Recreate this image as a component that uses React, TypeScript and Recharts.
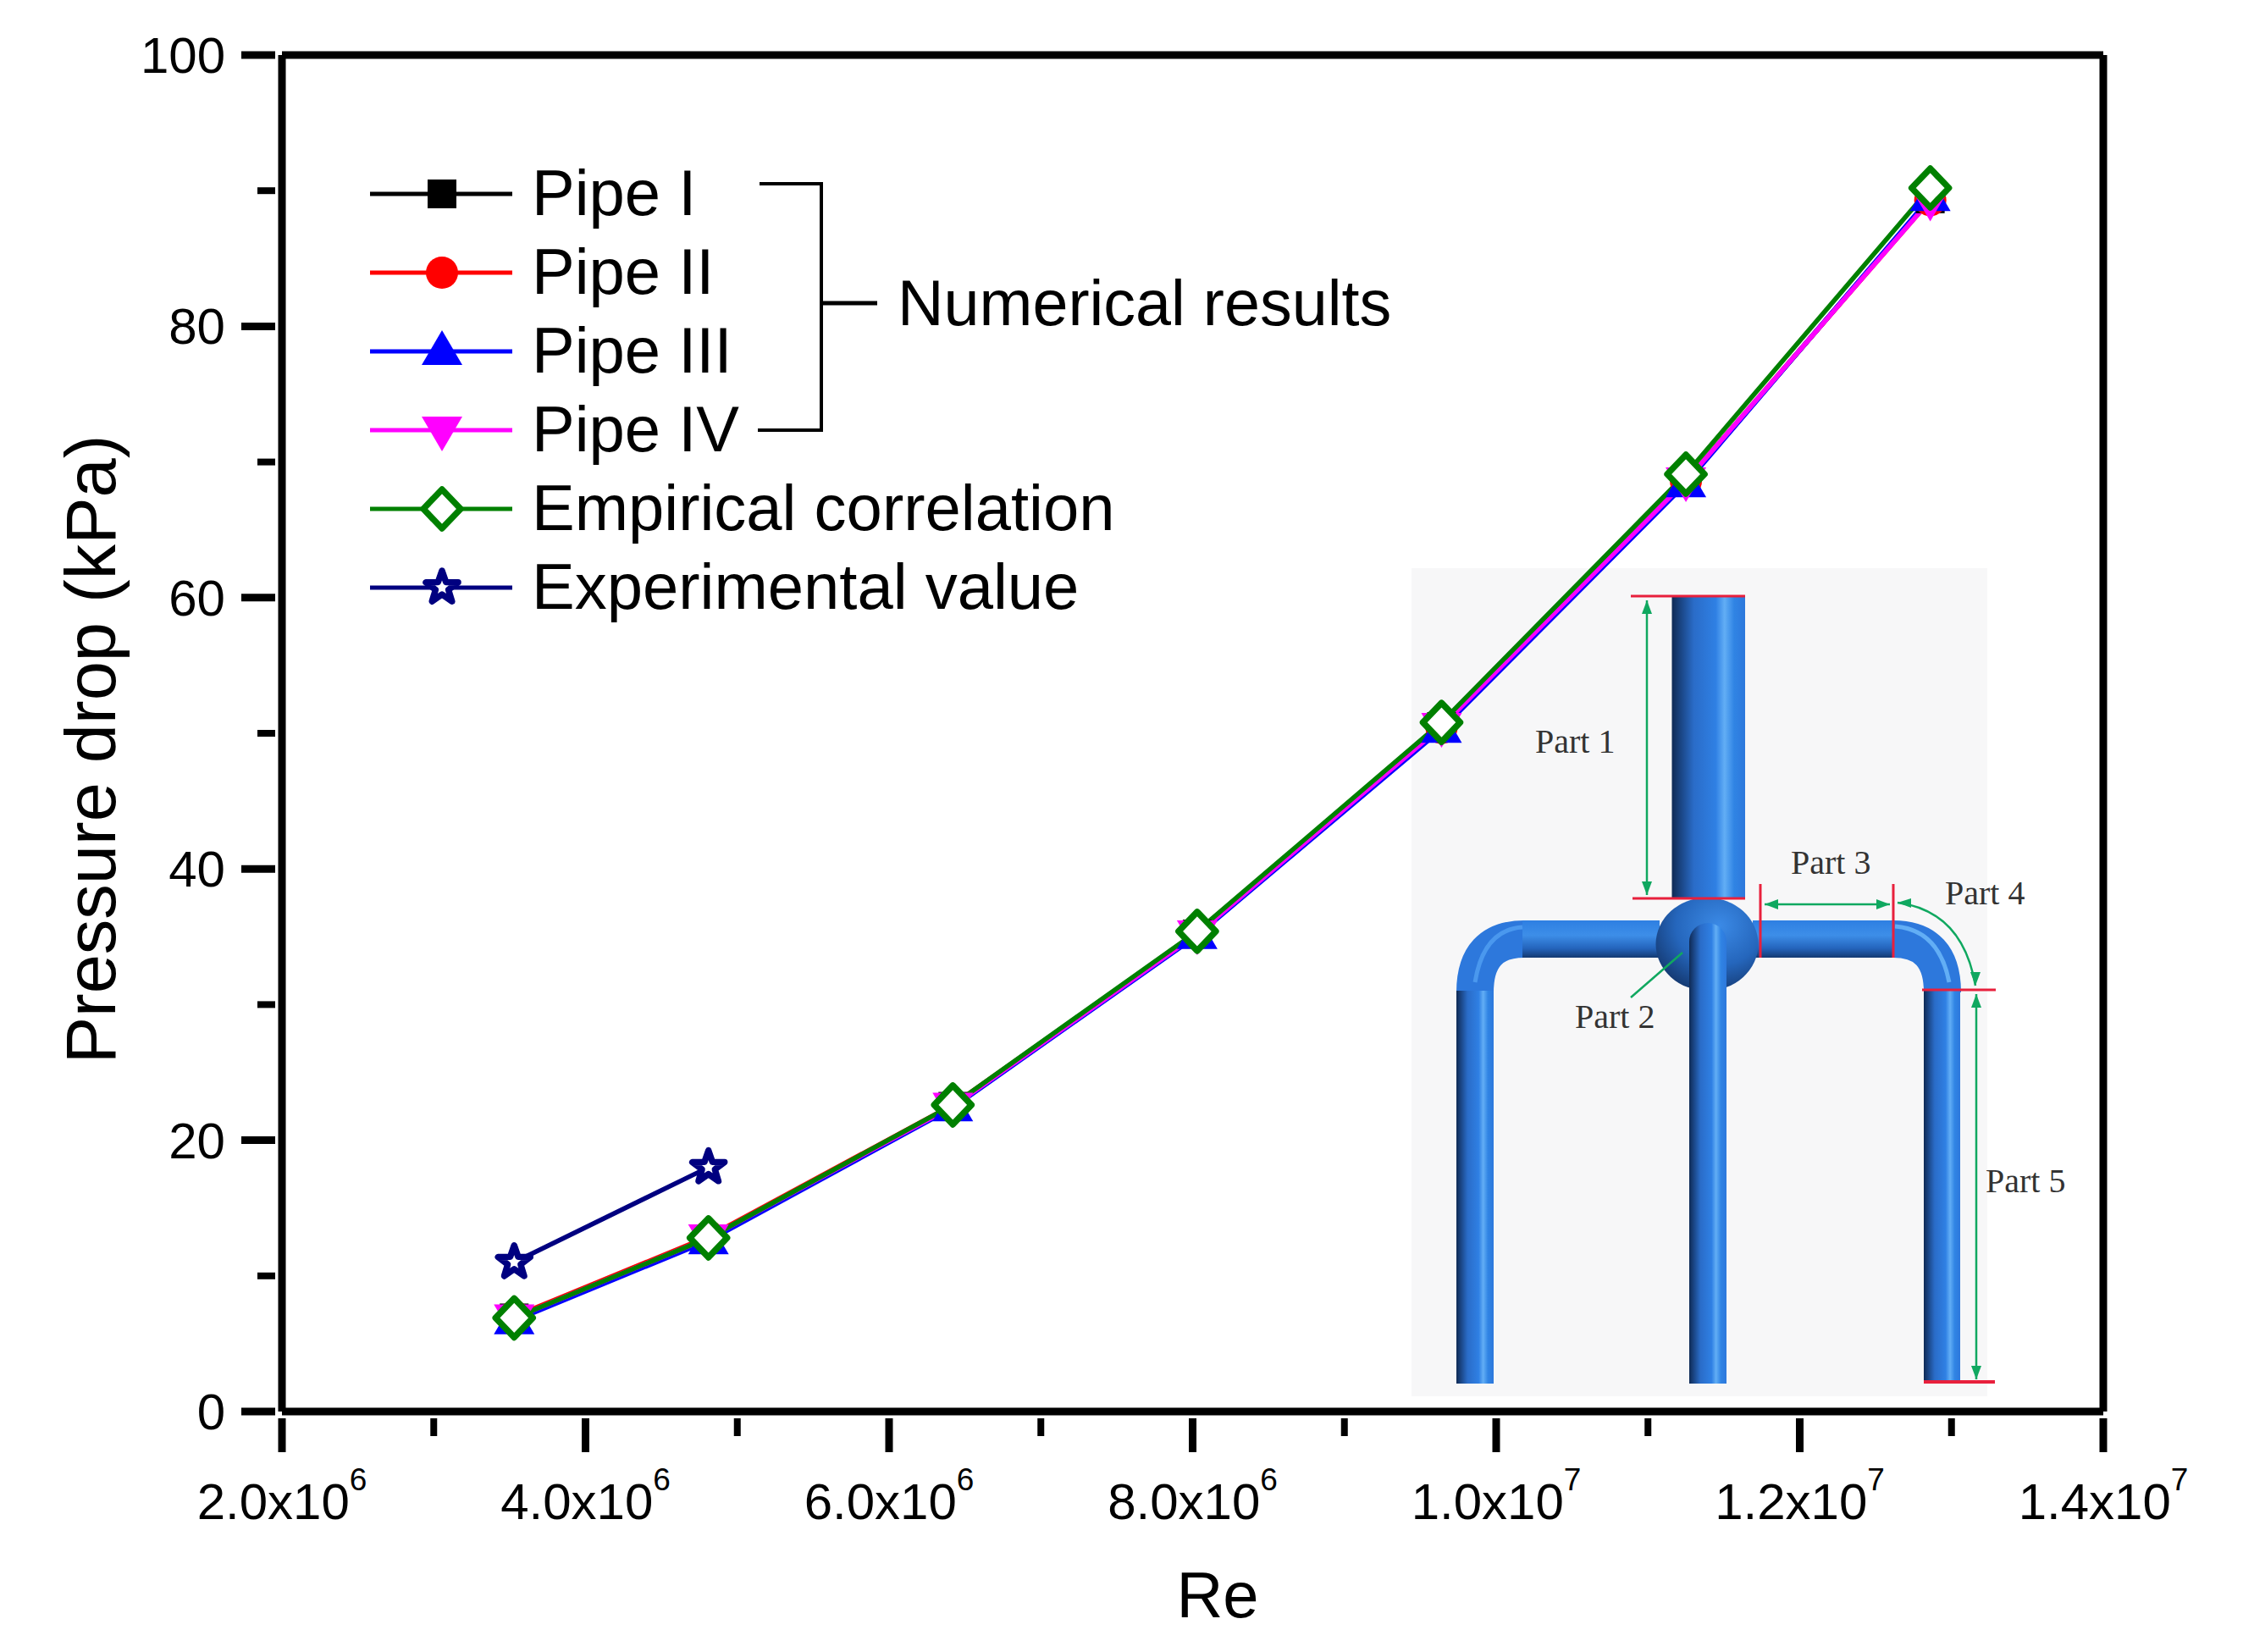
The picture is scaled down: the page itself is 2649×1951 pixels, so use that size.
import React from 'react';
import { LineChart, Line, XAxis, YAxis, Legend, ReferenceLine } from 'recharts';

const reynolds = [3.53e6, 4.81e6, 6.42e6, 8.03e6, 9.64e6, 11.25e6, 12.86e6];
const pipeI = [6.9, 12.7, 22.5, 35.2, 50.5, 68.5, 89.4];
const pipeII = [7.0, 12.9, 22.6, 35.3, 50.4, 68.6, 89.3];
const pipeIII = [6.7, 12.6, 22.4, 35.1, 50.3, 68.4, 89.5];
const pipeIV = [6.9, 12.8, 22.5, 35.2, 50.5, 68.6, 89.3];
const empirical = [6.9, 12.8, 22.6, 35.4, 50.8, 69.1, 90.2];
const experimental = [11.0, 18.0, null, null, null, null, null];
const xTicks = [2e6, 3e6, 4e6, 5e6, 6e6, 7e6, 8e6, 9e6, 10e6, 11e6, 12e6, 13e6, 14e6];
const xMajor: Record<number, [string, string]> = {
  2000000: ['2.0x10', '6'], 4000000: ['4.0x10', '6'], 6000000: ['6.0x10', '6'],
  8000000: ['8.0x10', '6'], 10000000: ['1.0x10', '7'], 12000000: ['1.2x10', '7'], 14000000: ['1.4x10', '7'],
};
const yTicks = [0, 10, 20, 30, 40, 50, 60, 70, 80, 90, 100];

const FONT = '"Liberation Sans", Arial, sans-serif';
const SERIF = '"Liberation Serif", "Times New Roman", serif';
const data = reynolds.map((re, i) => ({
  re, pipeI: pipeI[i], pipeII: pipeII[i], pipeIII: pipeIII[i], pipeIV: pipeIV[i],
  empirical: empirical[i], experimental: experimental[i],
}));

type Kind = 'square' | 'circle' | 'up' | 'down' | 'diamond' | 'star';
const series: { key: string; name: string; color: string; kind: Kind }[] = [
  { key: 'pipeI', name: 'Pipe I', color: '#000000', kind: 'square' },
  { key: 'pipeII', name: 'Pipe II', color: '#ff0000', kind: 'circle' },
  { key: 'pipeIII', name: 'Pipe III', color: '#0000ff', kind: 'up' },
  { key: 'pipeIV', name: 'Pipe IV', color: '#ff00ff', kind: 'down' },
  { key: 'empirical', name: 'Empirical correlation', color: '#008000', kind: 'diamond' },
  { key: 'experimental', name: 'Experimental value', color: '#000080', kind: 'star' },
];

function starPoints(cx: number, cy: number, R: number, r: number) {
  const p: string[] = [];
  for (let i = 0; i < 10; i++) {
    const rad = i % 2 ? r : R;
    const a = -Math.PI / 2 + (i * Math.PI) / 5;
    p.push(`${cx + rad * Math.cos(a)},${cy + rad * Math.sin(a)}`);
  }
  return p.join(' ');
}

function Marker({ cx, cy, kind, color }: { cx: number; cy: number; kind: Kind; color: string }) {
  switch (kind) {
    case 'square':
      return <rect x={cx - 17} y={cy - 17} width={34} height={34} fill={color} />;
    case 'circle':
      return <circle cx={cx} cy={cy} r={19} fill={color} />;
    case 'up':
      return <polygon points={`${cx},${cy - 25} ${cx + 24},${cy + 16} ${cx - 24},${cy + 16}`} fill={color} />;
    case 'down':
      return <polygon points={`${cx},${cy + 25} ${cx + 24},${cy - 16} ${cx - 24},${cy - 16}`} fill={color} />;
    case 'diamond':
      return (
        <polygon
          points={`${cx},${cy - 23} ${cx + 22},${cy} ${cx},${cy + 23} ${cx - 22},${cy}`}
          fill="#ffffff" stroke={color} strokeWidth={7.5} strokeLinejoin="round"
        />
      );
    default:
      return (
        <polygon
          points={starPoints(cx, cy, 20, 8)}
          fill="#ffffff" stroke={color} strokeWidth={7.5} strokeLinejoin="round"
        />
      );
  }
}

function makeDot(kind: Kind, color: string) {
  return (props: any) => {
    if (props.value == null || props.cy == null) return <g key={props.index} />;
    return <Marker key={props.index} cx={props.cx} cy={props.cy} kind={kind} color={color} />;
  };
}

function XTick({ x, y, payload }: any) {
  const major = xMajor[payload.value];
  return (
    <g>
      <line x1={x} x2={x} y1={y} y2={y + (major ? 40 : 21)} stroke="#000" strokeWidth={major ? 9 : 8} />
      {major && (
        <text x={x} y={1794} textAnchor="middle" fontFamily={FONT} fontSize={60} fill="#000">
          {major[0]}
          <tspan dy={-34} fontSize={37}>{major[1]}</tspan>
        </text>
      )}
    </g>
  );
}

function YTick({ x, y, payload }: any) {
  const major = payload.value % 20 === 0;
  return (
    <g>
      <line x1={x} x2={x - (major ? 40 : 21)} y1={y} y2={y} stroke="#000" strokeWidth={major ? 9 : 8} />
      {major && (
        <text x={266} y={y + 21} textAnchor="end" fontFamily={FONT} fontSize={60} fill="#000">
          {payload.value}
        </text>
      )}
    </g>
  );
}

function LegendBlock() {
  const rows = [229, 322, 415, 508, 601, 694];
  return (
    <svg width={1300} height={600} style={{ position: 'absolute', left: 0, top: 0, overflow: 'visible' }}>
      <g transform="translate(-420,-170)">
        {series.map((s, i) => (
          <g key={s.key}>
            <line x1={437} x2={605} y1={rows[i]} y2={rows[i]} stroke={s.color} strokeWidth={5} />
            <Marker cx={522} cy={rows[i]} kind={s.kind} color={s.color} />
            <text x={628} y={rows[i] + 25} fontFamily={FONT} fontSize={76} fill="#000">{s.name}</text>
          </g>
        ))}
        <path d="M897,217 H970 V508 H895" fill="none" stroke="#000" strokeWidth={4} />
        <line x1={970} x2={1036} y1={358} y2={358} stroke="#000" strokeWidth={5} />
        <text x={1060} y={384} fontFamily={FONT} fontSize={75.5} fill="#000">Numerical results</text>
      </g>
    </svg>
  );
}

function PipeInset() {
  const partStyle = { fontFamily: SERIF, fontSize: 40, fill: '#333333' };
  const green = '#10a860';
  const red = '#e8203c';
  return (
    <svg width={2649} height={1951} style={{ position: 'absolute', left: 0, top: 0, pointerEvents: 'none', zIndex: 0 }}>
      <defs>
        <linearGradient id="pipeV" x1="0" x2="1" y1="0" y2="0">
          <stop offset="0" stopColor="#0f2a55" />
          <stop offset="0.3" stopColor="#2a6cc8" />
          <stop offset="0.6" stopColor="#2f80e4" />
          <stop offset="0.72" stopColor="#62aef5" />
          <stop offset="0.85" stopColor="#3084e4" />
          <stop offset="1" stopColor="#2d78dc" />
        </linearGradient>
        <linearGradient id="pipeH" x1="0" x2="0" y1="0" y2="1">
          <stop offset="0" stopColor="#2e7fe2" />
          <stop offset="0.4" stopColor="#3d8ee8" />
          <stop offset="0.75" stopColor="#2464bc" />
          <stop offset="1" stopColor="#143a72" />
        </linearGradient>
        <radialGradient id="ball" cx="0.62" cy="0.3" r="0.85">
          <stop offset="0" stopColor="#3b8ae6" />
          <stop offset="0.5" stopColor="#2566bc" />
          <stop offset="1" stopColor="#0f2a58" />
        </radialGradient>
      </defs>
      <rect x={1667} y={671} width={680} height={978} fill="#f7f7f8" />
      <path d="M1800,1109 Q1742,1109 1742,1172" fill="none" stroke="#2d78dc" strokeWidth={44} />
      <path d="M2236,1109 Q2294,1109 2294,1172" fill="none" stroke="#2d78dc" strokeWidth={44} />
      <path d="M2238,1094 Q2290,1098 2302,1160" fill="none" stroke="#62aef5" strokeWidth={5} />
      <path d="M1798,1095 Q1752,1098 1742,1160" fill="none" stroke="#4a98ee" strokeWidth={5} />
      <rect x={1798} y={1087} width={162} height={44} fill="url(#pipeH)" />
      <rect x={2070} y={1087} width={166} height={44} fill="url(#pipeH)" />
      <rect x={1720} y={1170} width={44} height={464} fill="url(#pipeV)" />
      <rect x={2272} y={1170} width={43} height={462} fill="url(#pipeV)" />
      <rect x={1974.5} y={705} width={86.5} height={356} fill="url(#pipeV)" />
      <ellipse cx={2016} cy={1115} rx={60.5} ry={55} fill="url(#ball)" />
      <path d="M1995,1634 V1112 A22,22 0 0 1 2039,1112 V1634 Z" fill="url(#pipeV)" />
      <line x1={1926} x2={2061} y1={704} y2={704} stroke={red} strokeWidth={3} />
      <line x1={1928} x2={2061} y1={1061} y2={1061} stroke={red} strokeWidth={3} />
      <line x1={2079} x2={2079} y1={1044} y2={1131} stroke={red} strokeWidth={3} />
      <line x1={2236} x2={2236} y1={1044} y2={1131} stroke={red} strokeWidth={3} />
      <line x1={2270} x2={2357} y1={1169} y2={1169} stroke={red} strokeWidth={3} />
      <line x1={2272} x2={2356} y1={1632} y2={1632} stroke={red} strokeWidth={4} />
      <g stroke={green} strokeWidth={2.5} fill="none">
        <line x1={1945} x2={1945} y1={709} y2={1057} />
        <line x1={2084} x2={2232} y1={1068} y2={1068} />
        <path d="M2241,1066 Q2318,1076 2333,1164" />
        <line x1={2334} x2={2334} y1={1174} y2={1629} />
        <line x1={1926} y1={1178} x2={1987} y2={1125} />
      </g>
      <g fill={green}>
        <polygon points="1945,709 1939,725 1951,725" />
        <polygon points="1945,1057 1939,1041 1951,1041" />
        <polygon points="2084,1068 2100,1062 2100,1074" />
        <polygon points="2232,1068 2216,1062 2216,1074" />
        <polygon points="2241,1066 2257,1061 2257,1072" />
        <polygon points="2333,1164 2327,1148 2339,1148" />
        <polygon points="2334,1174 2328,1190 2340,1190" />
        <polygon points="2334,1629 2328,1613 2340,1613" />
      </g>
      <text x={1813} y={889} {...partStyle}>Part 1</text>
      <text x={1860} y={1214} {...partStyle}>Part 2</text>
      <text x={2115} y={1032} {...partStyle}>Part 3</text>
      <text x={2297} y={1068} {...partStyle}>Part 4</text>
      <text x={2345} y={1408} {...partStyle}>Part 5</text>
    </svg>
  );
}

export default function App() {
  return (
    <div style={{ position: 'absolute', left: 0, top: 0, width: 2649, height: 1951, background: '#fff', overflow: 'hidden' }}>
      <PipeInset />
      <div style={{ position: 'absolute', left: 0, top: 0, zIndex: 1 }}>
        <LineChart
          width={2649}
          height={1951}
          data={data}
          margin={{ top: 65, right: 165, bottom: 84, left: 133 }}
          style={{ background: 'transparent' }}
        >
          <XAxis
            dataKey="re" type="number" domain={[2e6, 14e6]} ticks={xTicks} interval={0} height={200}
            axisLine={{ stroke: '#000', strokeWidth: 9 }} tickLine={false} tick={<XTick />}
            allowDataOverflow
            label={{
              content: () => (
                <text x={1438} y={1910} textAnchor="middle" fontFamily={FONT} fontSize={76} fill="#000">Re</text>
              ),
            }}
          />
          <YAxis
            type="number" domain={[0, 100]} ticks={yTicks} interval={0} width={200}
            axisLine={{ stroke: '#000', strokeWidth: 9 }} tickLine={false} tick={<YTick />}
            label={{
              content: () => (
                <text
                  x={0} y={0} transform="translate(136,885) rotate(-90)" textAnchor="middle"
                  fontFamily={FONT} fontSize={83} fill="#000"
                >Pressure drop (kPa)</text>
              ),
            }}
          />
          <ReferenceLine y={100} stroke="#000" strokeWidth={9} ifOverflow="visible" />
          <ReferenceLine x={14e6} stroke="#000" strokeWidth={9} ifOverflow="visible" />
          {series.map((s) => (
            <Line
              key={s.key} dataKey={s.key} name={s.name} stroke={s.color} strokeWidth={5.5}
              dot={makeDot(s.kind, s.color)} activeDot={false}
              isAnimationActive={false} connectNulls={false} type="linear"
            />
          ))}
          <Legend
            content={() => <LegendBlock />}
            wrapperStyle={{ position: 'absolute', left: 420, top: 170, width: 0, height: 0, bottom: 'auto' }}
          />
        </LineChart>
      </div>
    </div>
  );
}
